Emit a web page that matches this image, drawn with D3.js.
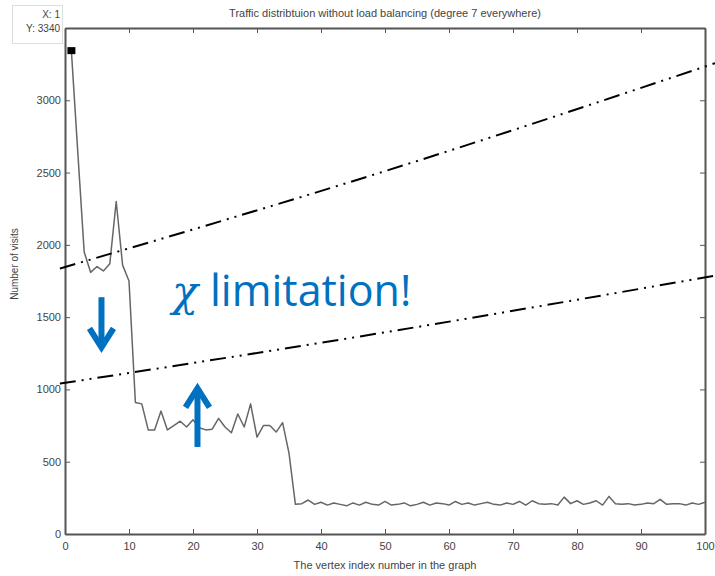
<!DOCTYPE html>
<html><head><meta charset="utf-8">
<script src="https://cdn.jsdelivr.net/npm/d3@7"></script>
<style>html,body{margin:0;padding:0;background:#fff;}svg{display:block;}</style>
</head><body>
<svg id="chart" width="715" height="576"></svg>
<script>
const title = "Traffic distribtuion without load balancing (degree 7 everywhere)";
const xLabel = "The vertex index number in the graph";
const yLabel = "Number of visits";
const xTicks = [0,10,20,30,40,50,60,70,80,90,100];
const yTicks = [0,500,1000,1500,2000,2500,3000];
const visits = [
 3340,2640,1950,1810,1850,1820,1870,2300,1860,1750,
 910,900,720,720,850,720,750,780,740,790,
 735,720,725,800,740,700,830,740,900,670,
 750,750,705,770,560,205,210,235,205,220,
 200,215,205,195,215,200,220,205,200,225,
 200,205,215,195,205,220,200,215,210,200,
 225,205,215,200,210,220,205,200,215,205,
 225,200,230,210,205,210,200,255,210,230,
 205,215,230,200,260,210,205,210,200,205,
 215,210,240,205,210,210,200,215,205,220];
const tipX = 1, tipY = 3340;
// annotation lines (data coords)
const upperLineX = [-0.8, 50, 101.6];
const upperLineV = [1836, 2510, 3257];
const lowerLineX = [-0.8, 50, 101.6];
const lowerLineV = [1040, 1395, 1787];
const arrowX = [5.7, 20.7];
const arrowFrom = [1638, 602];
const arrowTo = [1270, 1028];
const noteSymbol = "χ";
const noteText = "limitation!";
const noteX = 16.7, noteV = 1580;

const svg = d3.select("#chart");
const L = 65, R = 705, T = 28, B = 534;
const x = d3.scaleLinear().domain([0,100]).range([L,R]);
const y = d3.scaleLinear().domain([0,3500]).range([B,T]);
const axisColor = "#555";
const txtColor = "#444";
const font = "Liberation Sans, Arial, sans-serif";

const g = svg.append("g");
g.append("g").attr("transform",`translate(0,${B})`)
 .call(d3.axisBottom(x).tickValues(xTicks).tickSizeInner(-5).tickSizeOuter(0).tickPadding(8).tickFormat(d3.format("d")))
 .call(a=>{a.select(".domain").attr("stroke",axisColor).attr("stroke-width",2);
   a.selectAll(".tick line").attr("stroke",axisColor);
   a.selectAll("text").attr("fill",txtColor).attr("font-size",11).attr("font-family",font);});
g.append("g").attr("transform",`translate(0,${T})`)
 .call(d3.axisTop(x).tickValues(xTicks).tickSizeInner(-5).tickSizeOuter(0).tickFormat(""))
 .call(a=>{a.select(".domain").attr("stroke",axisColor).attr("stroke-width",2);
   a.selectAll(".tick line").attr("stroke",axisColor);});
g.append("g").attr("transform",`translate(${L},0)`)
 .call(d3.axisLeft(y).tickValues(yTicks).tickSizeInner(-5).tickSizeOuter(0).tickPadding(4).tickFormat(d3.format("d")))
 .call(a=>{a.select(".domain").attr("stroke",axisColor).attr("stroke-width",2);
   a.selectAll(".tick line").attr("stroke",axisColor);
   a.selectAll("text").attr("fill",txtColor).attr("font-size",11).attr("font-family",font);});
g.append("g").attr("transform",`translate(${R},0)`)
 .call(d3.axisRight(y).tickValues(yTicks).tickSizeInner(-5).tickSizeOuter(0).tickFormat(""))
 .call(a=>{a.select(".domain").attr("stroke",axisColor).attr("stroke-width",2);
   a.selectAll(".tick line").attr("stroke",axisColor);});

svg.append("text").attr("x",385).attr("y",17).attr("text-anchor","middle")
 .attr("font-size",11).attr("font-family",font).attr("fill",txtColor).text(title);
svg.append("text").attr("x",385).attr("y",569).attr("text-anchor","middle")
 .attr("font-size",11).attr("font-family",font).attr("fill",txtColor).text(xLabel);
svg.append("text").attr("transform","translate(18,264) rotate(-90)").attr("text-anchor","middle")
 .attr("font-size",10).attr("font-family",font).attr("fill",txtColor).text(yLabel);

const line = d3.line().x((d,i)=>x(i+1)).y(d=>y(d));
svg.append("path").datum(visits).attr("d",line).attr("fill","none")
 .attr("stroke","#666").attr("stroke-width",1.5).attr("stroke-linejoin","round");

svg.append("rect").attr("x",x(tipX)-4).attr("y",y(tipY)-4).attr("width",8).attr("height",7).attr("fill","#000");
const tip = svg.append("g");
tip.append("rect").attr("x",12.5).attr("y",5.5).attr("width",50).attr("height",38)
 .attr("fill","#fff").attr("stroke","#ddd");
tip.append("text").attr("x",60).attr("y",18).attr("text-anchor","end").attr("font-size",10)
 .attr("font-family",font).attr("fill",txtColor).text("X: "+tipX);
tip.append("text").attr("x",60).attr("y",32).attr("text-anchor","end").attr("font-size",10)
 .attr("font-family",font).attr("fill",txtColor).text("Y: "+tipY);

const aline = d3.line().x(d=>x(d[0])).y(d=>y(d[1])).curve(d3.curveNatural);
[[upperLineX,upperLineV],[lowerLineX,lowerLineV]].forEach(([xs,vs])=>{
  svg.append("path").datum(xs.map((v,i)=>[v,vs[i]])).attr("d",aline).attr("fill","none")
   .attr("stroke","#000").attr("stroke-width",2).attr("stroke-dasharray","16,6,2,6,2,6");
});

const blue = "#0070C0";
arrowX.forEach((ax,i)=>{
  const px = x(ax), y0 = y(arrowFrom[i]), y1 = y(arrowTo[i]);
  const dir = y1 > y0 ? 1 : -1;
  svg.append("line").attr("x1",px).attr("x2",px).attr("y1",y0).attr("y2",y1 - dir*3)
   .attr("stroke",blue).attr("stroke-width",6);
  svg.append("path").attr("d",`M${px-12},${y1-dir*22} L${px},${y1-dir*3} L${px+12},${y1-dir*22}`)
   .attr("fill","none").attr("stroke",blue).attr("stroke-width",6).attr("stroke-linejoin","miter").attr("stroke-linecap","butt");
});

const note = svg.append("text").attr("x",x(noteX)).attr("y",y(noteV)).attr("font-size",43)
 .attr("font-family","Open Sans, Liberation Sans, sans-serif").attr("fill",blue);
note.append("tspan").attr("font-family","DejaVu Serif, Liberation Serif, serif").attr("font-style","italic").text(noteSymbol);
note.append("tspan").attr("dx",12).text(noteText);
</script>
</body></html>
